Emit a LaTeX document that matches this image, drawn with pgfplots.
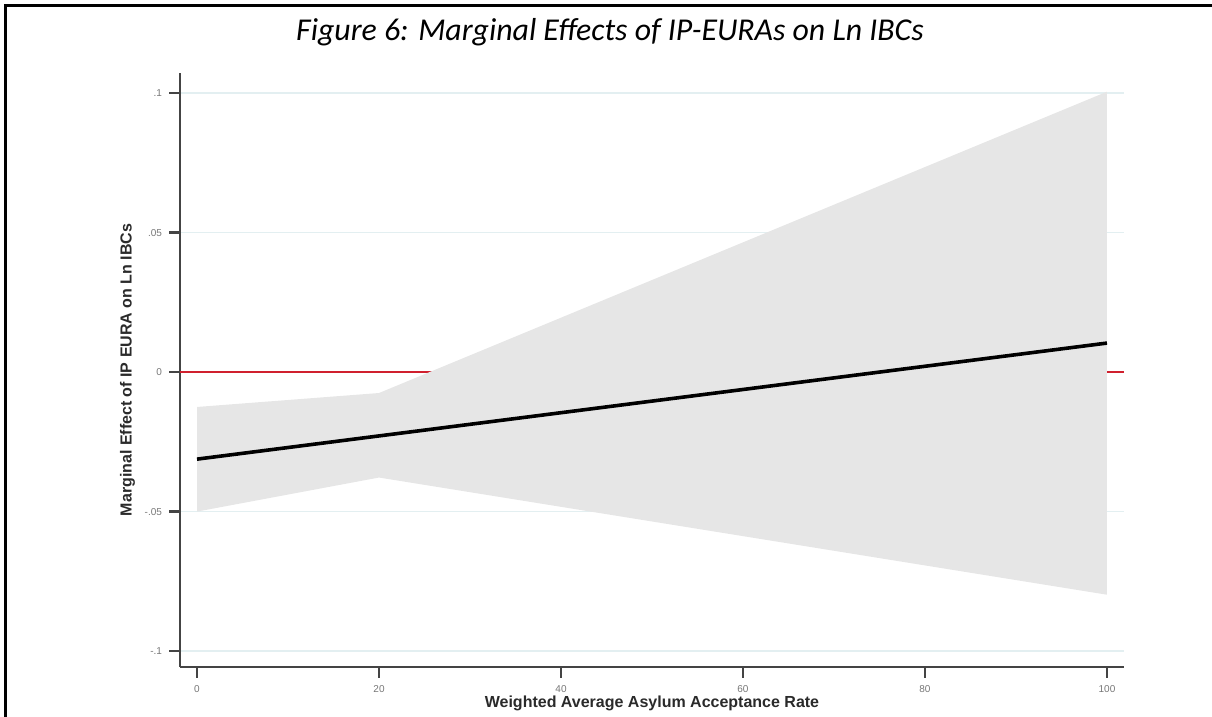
\documentclass[border=0pt]{standalone}
\usepackage{fontspec}
\setmainfont{Liberation Sans}
\newfontfamily\titlefont{Carlito}
\usepackage{pgfplots}
\pgfplotsset{compat=1.18}
\definecolor{bandgray}{HTML}{E6E6E6}
\definecolor{gridc}{HTML}{E3EFF1}
\definecolor{redl}{HTML}{D0202E}
\definecolor{axc}{HTML}{444444}
\definecolor{tickl}{HTML}{777777}
\definecolor{labc}{HTML}{2A2A2A}
\begin{document}
\begin{tikzpicture}
\useasboundingbox (0,0) rectangle (606pt,358.5pt);
\draw[black,line width=1.5pt] (2.5pt,0) -- (2.5pt,355.5pt) -- (606pt,355.5pt);
\node[font=\titlefont\itshape\fontsize{15.9}{19}\selectfont] at (305pt,342.5pt) {Figure 6: Marginal Effects of IP-EURAs on Ln IBCs};
\begin{axis}[
  at={(90pt,25pt)}, anchor=south west,
  scale only axis, width=472pt, height=297pt,
  xmin=-1.87, xmax=101.87, ymin=-0.1057, ymax=0.1072,
  axis lines=left, axis line style={-, draw=axc, line width=1pt},
  xtick={0,20,40,60,80,100},
  ytick={-0.1,-0.05,0,0.05,0.1},
  yticklabels={-.1,-.05,0,.05,.1},
  tick align=outside, major tick length=5.5pt,
  tick style={draw=axc, line width=1.1pt},
  /pgf/number format/assume math mode=true,
  ticklabel style={font=\fontsize{5}{6}\selectfont, text=tickl},
  ymajorgrids, grid style={draw=gridc, line width=0.9pt},
  xlabel={Weighted Average Asylum Acceptance Rate},
  ylabel={Marginal Effect of IP EURA on Ln IBCs},
  xlabel style={font=\bfseries\fontsize{8}{9}\selectfont, text=labc, yshift=5pt},
  ylabel style={font=\bfseries\fontsize{8}{9}\selectfont, text=labc, yshift=-2pt},
  clip=false,
]
\addplot[redl, line width=1pt] coordinates {(-1.87,0) (101.87,0)};
\addplot[fill=bandgray, draw=none] coordinates {
  (0,-0.0125) (20,-0.0075) (100,0.1005) (100,-0.0798) (20,-0.0378) (0,-0.050)
} -- cycle;
\addplot[black, line width=1.8pt] coordinates {(0,-0.0312) (100,0.0104)};
\end{axis}
\end{tikzpicture}
\end{document}
